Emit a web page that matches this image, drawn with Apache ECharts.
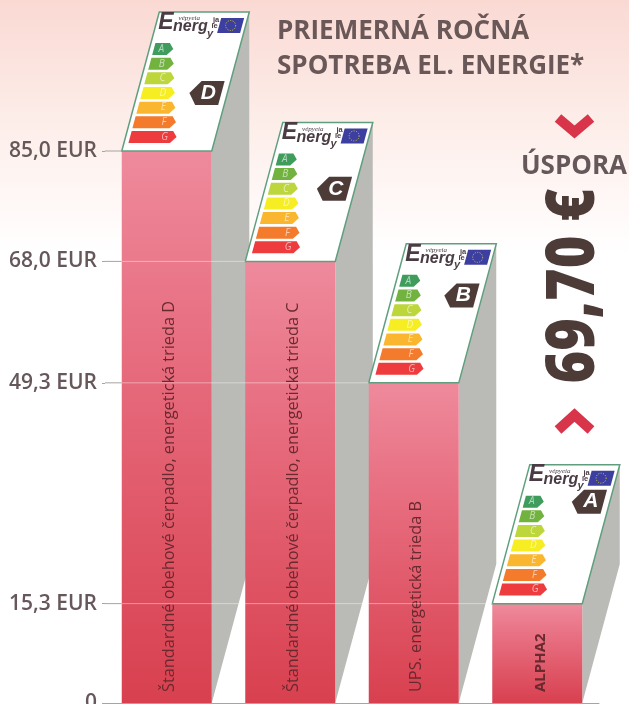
<!DOCTYPE html>
<html>
<head>
<meta charset="utf-8">
<style>
  html, body { margin: 0; padding: 0; background: #fff; }
  #chart { width: 629px; height: 704px; }
</style>
<script src="https://cdn.jsdelivr.net/npm/echarts@6/dist/echarts.min.js"></script>
</head>
<body>
<div id="chart"></div>
<script>
const categories = [
  "Štandardné obehové čerpadlo, energetická trieda D",
  "Štandardné obehové čerpadlo, energetická trieda C",
  "UPS. energetická trieda B",
  "ALPHA2",
];
const costs = [85.0, 68.0, 49.3, 15.3];
const energyClasses = ["D", "C", "B", "A"];
const tickValues = [0, 15.3, 49.3, 68.0, 85.0];
const tickLabels = ["0", "15,3 EUR", "49,3 EUR", "68,0 EUR", "85,0 EUR"];
const classLetters = ["A", "B", "C", "D", "E", "F", "G"];
const classColors = ["#3f9c5c", "#72b340", "#bdd63c", "#f6ee22", "#fbb62f", "#f47b2b", "#ee3b3e"];
const titleLines = ["PRIEMERNÁ ROČNÁ", "SPOTREBA EL. ENERGIE*"];
const savingLabel = "ÚSPORA";
const savingValue = "69,70 €";

const SLANT = 0.27;
const CARD_H = 139;
const CARD_W = 90;
const BROWN = "#4d3b38";
const GREY_TEXT = "#66575a";
const FONT = '"Open Sans", sans-serif';

// card local coords: u along the bottom edge, v up the slanted side
const shear = (x0, y0) => (u, v) => [x0 + u + v * SLANT, y0 - v];

function renderSide(params, api) {
  const top = api.coord([api.value(0), api.value(1)]);
  const base = api.coord([api.value(0), 0]);
  const half = api.size([1, 0])[0] * (CARD_W / 123.5) / 2;
  const x = top[0] + half;
  const dx = CARD_H * SLANT;
  return {
    type: "polygon",
    shape: {
      points: [
        [x, top[1]],
        [x + dx, top[1] - CARD_H],
        [x + dx, base[1] - CARD_H],
        [x, base[1]],
      ],
    },
    style: { fill: "#babbb7" },
  };
}

function arrowPoints(p, u0, u1, v, h, tip) {
  return [
    p(u0, v - h),
    p(u1 - tip, v - h),
    p(u1, v),
    p(u1 - tip, v + h),
    p(u0, v + h),
  ];
}

function renderCard(params, api) {
  const top = api.coord([api.value(0), api.value(1)]);
  const half = api.size([1, 0])[0] * (CARD_W / 123.5) / 2;
  const p = shear(top[0] - half, top[1]);
  const textAt = (u, v, text, font, fill, extra) => {
    const pos = p(u, v);
    return {
      type: "text",
      style: Object.assign({ x: pos[0], y: pos[1], text, font, fill, textVerticalAlign: "bottom" }, extra),
    };
  };
  const children = [
    {
      type: "polygon",
      shape: { points: [p(0, 0), p(CARD_W, 0), p(CARD_W, CARD_H), p(0, CARD_H)] },
      style: { fill: "#fff", stroke: "#5f9f7e", lineWidth: 1.5 },
    },
  ];
  classLetters.forEach((letter, i) => {
    const v = 102 - i * 14.66;
    const uEnd = 24 + i * 4.5;
    children.push({
      type: "polygon",
      shape: { points: arrowPoints(p, 4.5, uEnd, v, 6, 5) },
      style: { fill: classColors[i] },
    });
    children.push(textAt(uEnd - 12, v, letter, `italic 10px ${FONT}`, "rgba(255,255,255,0.6)", {
      textAlign: "center",
      textVerticalAlign: "middle",
    }));
  });

  // energy logo
  const ink = "#4a3c44";
  children.push(textAt(5, 117, "E", `italic bold 23px "Liberation Sans"`, ink));
  children.push(textAt(20, 116, "nerg", `italic bold 16px "Liberation Sans"`, ink));
  children.push(textAt(22, 129, "vépyeia", `italic 7px "Liberation Serif"`, ink));
  children.push(textAt(55, 112, "y", `italic bold 11px "Liberation Sans"`, ink));
  children.push(textAt(57, 127, "ja", `bold 7.5px "Liberation Sans"`, ink));
  children.push(textAt(57, 121, "ie", `bold 7.5px "Liberation Sans"`, ink));
  children.push({
    type: "polygon",
    shape: { points: [p(63.5, 118), p(86.5, 118), p(86.5, 133), p(63.5, 133)] },
    style: { fill: "#3c3f9f" },
  });
  const flagC = p(75, 125.5);
  children.push({
    type: "circle",
    shape: { cx: flagC[0], cy: flagC[1], r: 5 },
    style: { fill: null, stroke: "#d8cf3a", lineWidth: 1, lineDash: [1, 1.5] },
  });

  // class badge sits on the row of its class
  const row = classLetters.indexOf(energyClasses[params.dataIndex]);
  const vBadge = 102 - row * 14.66;
  children.push({
    type: "polygon",
    shape: {
      points: [
        p(52, vBadge),
        p(61, vBadge - 12),
        p(84, vBadge - 12),
        p(84, vBadge + 12),
        p(61, vBadge + 12),
      ],
    },
    style: { fill: BROWN },
  });
  children.push(textAt(71, vBadge, energyClasses[params.dataIndex], `italic bold 21px "Liberation Sans"`, "#fff", {
    textAlign: "center",
    textVerticalAlign: "middle",
  }));
  return { type: "group", children };
}

// tick continuation: grey up to the first bar, pale across bars up to the bar with that value
function renderLevel(params, api) {
  const idx = api.value(0);
  const y = api.coord([idx, api.value(1)])[1];
  const band = api.size([1, 0])[0];
  const barW = band * (CARD_W / 123.5);
  const first = api.coord([0, 0])[0] - barW / 2;
  const end = api.coord([idx, 0])[0] - barW / 2;
  const gridLeft = params.coordSys.x;
  const children = [
    { type: "line", shape: { x1: gridLeft, y1: y, x2: first, y2: y }, style: { stroke: "#a9a3a1", lineWidth: 1 } },
  ];
  if (end > first) {
    children.push({
      type: "line",
      shape: { x1: first, y1: y, x2: end, y2: y },
      style: { stroke: "rgba(255,255,255,0.42)", lineWidth: 1 },
    });
  }
  return { type: "group", children };
}

const chart = echarts.init(document.getElementById("chart"));
chart.setOption({
  animation: false,
  backgroundColor: "#fff",
  graphic: [
    {
      type: "rect",
      z: -10,
      shape: { x: 0, y: 0, width: 629, height: 704 },
      style: {
        fill: new echarts.graphic.LinearGradient(0, 0, 0, 1, [
          { offset: 0, color: "#fad9d3" },
          { offset: 0.18, color: "#fdeeea" },
          { offset: 0.36, color: "#ffffff" },
          { offset: 1, color: "#ffffff" },
        ]),
      },
    },
    { type: "text", x: 277, y: 19, style: { text: titleLines[0], font: `bold 26px ${FONT}`, fill: "#6a5757" } },
    { type: "text", x: 277, y: 54, style: { text: titleLines[1], font: `bold 26px ${FONT}`, fill: "#6a5757" } },
    { type: "polyline", shape: { points: [[558, 118], [574.5, 132], [591, 118]] }, style: { fill: null, stroke: "#d8354a", lineWidth: 10 } },
    { type: "polyline", shape: { points: [[558, 430], [574.5, 415], [591, 430]] }, style: { fill: null, stroke: "#d8354a", lineWidth: 10 } },
    { type: "text", x: 574, y: 167, style: { text: savingLabel, font: `bold 26px ${FONT}`, fill: GREY_TEXT, textAlign: "center", textVerticalAlign: "middle" } },
    { type: "text", x: 575, y: 286, rotation: Math.PI / 2, scaleX: 0.82, style: { text: savingValue, font: `800 68px ${FONT}`, fill: BROWN, textAlign: "center", textVerticalAlign: "middle" } },
  ],
  grid: { left: 105, right: 30, top: 151, bottom: 1, outerBoundsMode: "none" },
  xAxis: {
    type: "category",
    data: categories,
    axisLine: { show: true, lineStyle: { color: "#a9a3a1" } },
    axisTick: { show: false },
    axisLabel: { show: false },
  },
  yAxis: {
    type: "value",
    min: 0,
    max: 85,
    splitLine: { show: false },
    axisLine: { show: false },
    axisTick: { show: true, length: 3, customValues: tickValues, lineStyle: { color: "#a9a3a1" } },
    axisLabel: {
      margin: 8,
      customValues: tickValues,
      formatter: (v) => tickLabels[tickValues.indexOf(v)],
      fontFamily: "Open Sans",
      fontWeight: 600,
      fontSize: 21,
      color: GREY_TEXT,
    },
  },
  series: [
    {
      type: "custom",
      z: 1,
      clip: false,
      renderItem: renderSide,
      encode: { x: 0, y: 1 },
      data: costs.map((c, i) => [i, c]),
    },
    {
      type: "bar",
      z: 2,
      barWidth: 90,
      data: costs.map((c, i) => (
        i === 3 ? { value: c, label: { fontWeight: 700, fontSize: 15 } } : c
      )),
      itemStyle: {
        color: new echarts.graphic.LinearGradient(0, 0, 0, 1, [
          { offset: 0, color: "#ee8a9c" },
          { offset: 0.35, color: "#e76e80" },
          { offset: 1, color: "#d8404f" },
        ]),
      },
      label: {
        show: true,
        position: "insideBottom",
        rotate: 90,
        align: "left",
        verticalAlign: "middle",
        distance: 11,
        offset: [0, 3],
        fontFamily: "Open Sans",
        fontSize: 16.3,
        fontWeight: 500,
        color: "#682a2f",
        formatter: (p) => p.name,
      },
    },
    {
      type: "custom",
      z: 3,
      clip: false,
      renderItem: renderCard,
      encode: { x: 0, y: 1 },
      data: costs.map((c, i) => [i, c]),
    },
    {
      type: "custom",
      z: 4,
      clip: false,
      silent: true,
      renderItem: renderLevel,
      encode: { x: 0, y: 1 },
      data: costs.map((c, i) => [i, c]),
    },
  ],
});
</script>
</body>
</html>
